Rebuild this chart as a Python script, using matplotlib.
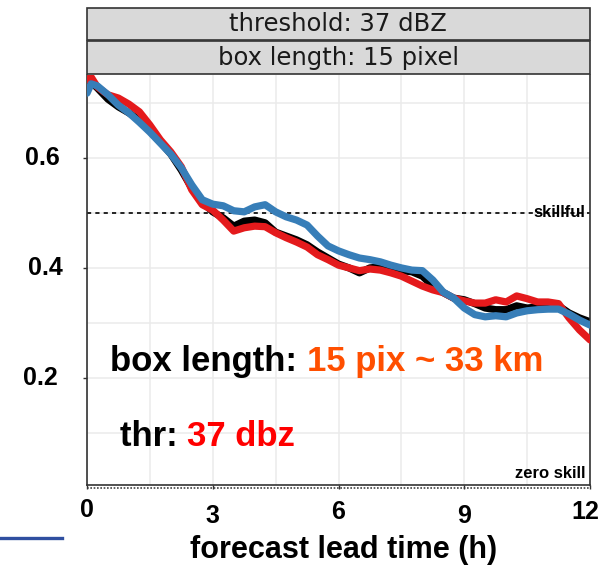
import matplotlib
matplotlib.use('Agg')
import matplotlib.pyplot as plt
from matplotlib.patches import Rectangle
from matplotlib.lines import Line2D
import matplotlib.transforms as mtrans
import numpy as np

# lead time (h) and skill values
lead = [0, 0.1, 0.25, 0.5, 0.75, 1.0, 1.25, 1.5, 1.75, 2.0, 2.25, 2.5, 2.75,
        3.0, 3.25, 3.5, 3.75, 4.0, 4.25, 4.5, 4.75, 5.0, 5.25, 5.5, 5.75,
        6.0, 6.25, 6.5, 6.75, 7.0, 7.25, 7.5, 7.75, 8.0, 8.25, 8.5, 8.75,
        9.0, 9.25, 9.5, 9.75, 10.0, 10.25, 10.5, 10.75, 11.0, 11.25, 11.5,
        11.75, 12.0]

black = [0.742, 0.738, 0.727, 0.707, 0.693, 0.682, 0.669, 0.649, 0.629, 0.607,
         0.578, 0.545, 0.520, 0.502, 0.491, 0.476, 0.485, 0.487, 0.482, 0.465,
         0.458, 0.451, 0.442, 0.429, 0.418, 0.407, 0.400, 0.391, 0.400, 0.402,
         0.396, 0.395, 0.393, 0.385, 0.367, 0.355, 0.345, 0.342, 0.335, 0.327,
         0.324, 0.324, 0.331, 0.327, 0.329, 0.331, 0.331, 0.318, 0.309, 0.302]

red = [0.742, 0.747, 0.729, 0.715, 0.709, 0.698, 0.684, 0.660, 0.633, 0.611,
       0.584, 0.542, 0.515, 0.505, 0.487, 0.467, 0.473, 0.476, 0.475, 0.464,
       0.455, 0.447, 0.438, 0.424, 0.415, 0.405, 0.400, 0.395, 0.398, 0.396,
       0.391, 0.385, 0.376, 0.367, 0.360, 0.355, 0.345, 0.340, 0.336, 0.336,
       0.342, 0.338, 0.349, 0.344, 0.338, 0.338, 0.335, 0.309, 0.287, 0.269]

blue = [0.718, 0.735, 0.731, 0.715, 0.696, 0.682, 0.665, 0.647, 0.627, 0.607,
        0.582, 0.551, 0.524, 0.516, 0.513, 0.504, 0.502, 0.511, 0.515, 0.502,
        0.493, 0.487, 0.478, 0.458, 0.440, 0.431, 0.424, 0.418, 0.415, 0.411,
        0.405, 0.400, 0.396, 0.395, 0.378, 0.356, 0.345, 0.327, 0.315, 0.311,
        0.313, 0.311, 0.318, 0.322, 0.324, 0.325, 0.325, 0.316, 0.305, 0.296]

y_ticks = [0.2, 0.4, 0.6]
x_ticks = [0, 3, 6, 9, 12]

W, H = 600, 567
fig = plt.figure(figsize=(6, 5.67), dpi=100)
ax = fig.add_axes([87 / W, 1 - 485 / H, (590 - 87) / W, (485 - 75) / H])

ax.set_xlim(0, 12)
ax.set_ylim(0.005, 0.751)

# ggplot-ish grid
for gx in np.arange(0, 12.01, 1.5):
    ax.axvline(gx, color='#ebebeb', lw=1.1, zorder=0)
for gy in np.arange(0.1, 0.75, 0.1):
    ax.axhline(gy, color='#ebebeb', lw=1.1, zorder=0)

ax.axhline(0.5, color='black', lw=1.2, ls=(0, (2.5, 2.5)), zorder=1)
ax.plot([0, 12], [0, 0], color='#444444', lw=1.2, ls=(0, (1, 1)),
        clip_on=False, zorder=1)

ax.plot(lead, black, color='black', lw=5.2, zorder=2, solid_capstyle='round')
ax.plot(lead, red, color='#e41a1c', lw=5.2, zorder=3, solid_capstyle='round')
ax.plot(lead, blue, color='#377eb8', lw=5.2, zorder=4, solid_capstyle='round')

for side in ['left', 'bottom', 'right']:
    ax.spines[side].set_color('#333333')
    ax.spines[side].set_linewidth(1.2)
ax.spines['top'].set_visible(False)

ax.set_xticks(x_ticks)
ax.set_yticks(y_ticks)
ax.set_xticklabels([])
ax.set_yticklabels([])
ax.tick_params(length=3, width=1, color='#333333')

bold = dict(family='Liberation Sans', weight='bold', color='black')

# y labels placed like the source (pasted far from axis)
ylab_x = [40, 45, 42]
for v, px in zip(y_ticks, ylab_x):
    fig.text(px / W, 1 - (485 - (v - 0.005) * 549.6) / H, '%.1f' % v,
             ha='center', va='center', size=18, **bold)

xmix = mtrans.blended_transform_factory(ax.transData, fig.transFigure)
xlab_y = [510, 516, 512, 516, 512]
for v, py in zip(x_ticks, xlab_y):
    if v == 12:
        ax.text(12.23, 1 - py / H, str(v), transform=xmix, ha='right', va='center',
                size=18, clip_on=False, **bold)
    else:
        ax.text(v, 1 - py / H, str(v), transform=xmix, ha='center', va='center',
                size=18, clip_on=False, **bold)

fig.text(344 / W, 1 - 550 / H, 'forecast lead time (h)', ha='center', va='center',
         size=22, **bold)

# annotations
ax.text(11.9, 0.5, 'skillful', ha='right', va='center', size=12, **bold)
ax.text(11.9, 0.012, 'zero skill', ha='right', va='bottom', size=12, **bold)

t1 = fig.text(110 / W, 1 - 362 / H, 'box length: ', ha='left', va='center', size=25, **bold)
fig.canvas.draw()
bb = t1.get_window_extent()
fig.text(bb.x1 / W, 1 - 362 / H, '15 pix ~ 33 km', ha='left', va='center', size=25,
         family='Liberation Sans', weight='bold', color='#ff4f00')

t2 = fig.text(120 / W, 1 - 436 / H, 'thr: ', ha='left', va='center', size=25, **bold)
fig.canvas.draw()
bb2 = t2.get_window_extent()
fig.text(bb2.x1 / W, 1 - 436 / H, '37 dbz', ha='left', va='center', size=25,
         family='Liberation Sans', weight='bold', color='#ff0000')

# facet strips
strips = [(8, 40, 'threshold: 37 dBZ'), (41, 74, 'box length: 15 pixel')]
for top, bot, lab in strips:
    fig.add_artist(Rectangle((87 / W, 1 - bot / H), (590 - 87) / W, (bot - top) / H,
                             transform=fig.transFigure, facecolor='#d9d9d9',
                             edgecolor='#333333', lw=1.2))
    fig.text(338 / W, 1 - (top + bot) / 2 / H, lab, ha='center', va='center',
             size=17.5, color='#1a1a1a', family='DejaVu Sans')

fig.add_artist(Line2D([0, 62 / W], [1 - 538 / H, 1 - 538 / H], color='#2f4fa0',
                      lw=2.4, transform=fig.transFigure))

fig.savefig('out.png', dpi=100)
